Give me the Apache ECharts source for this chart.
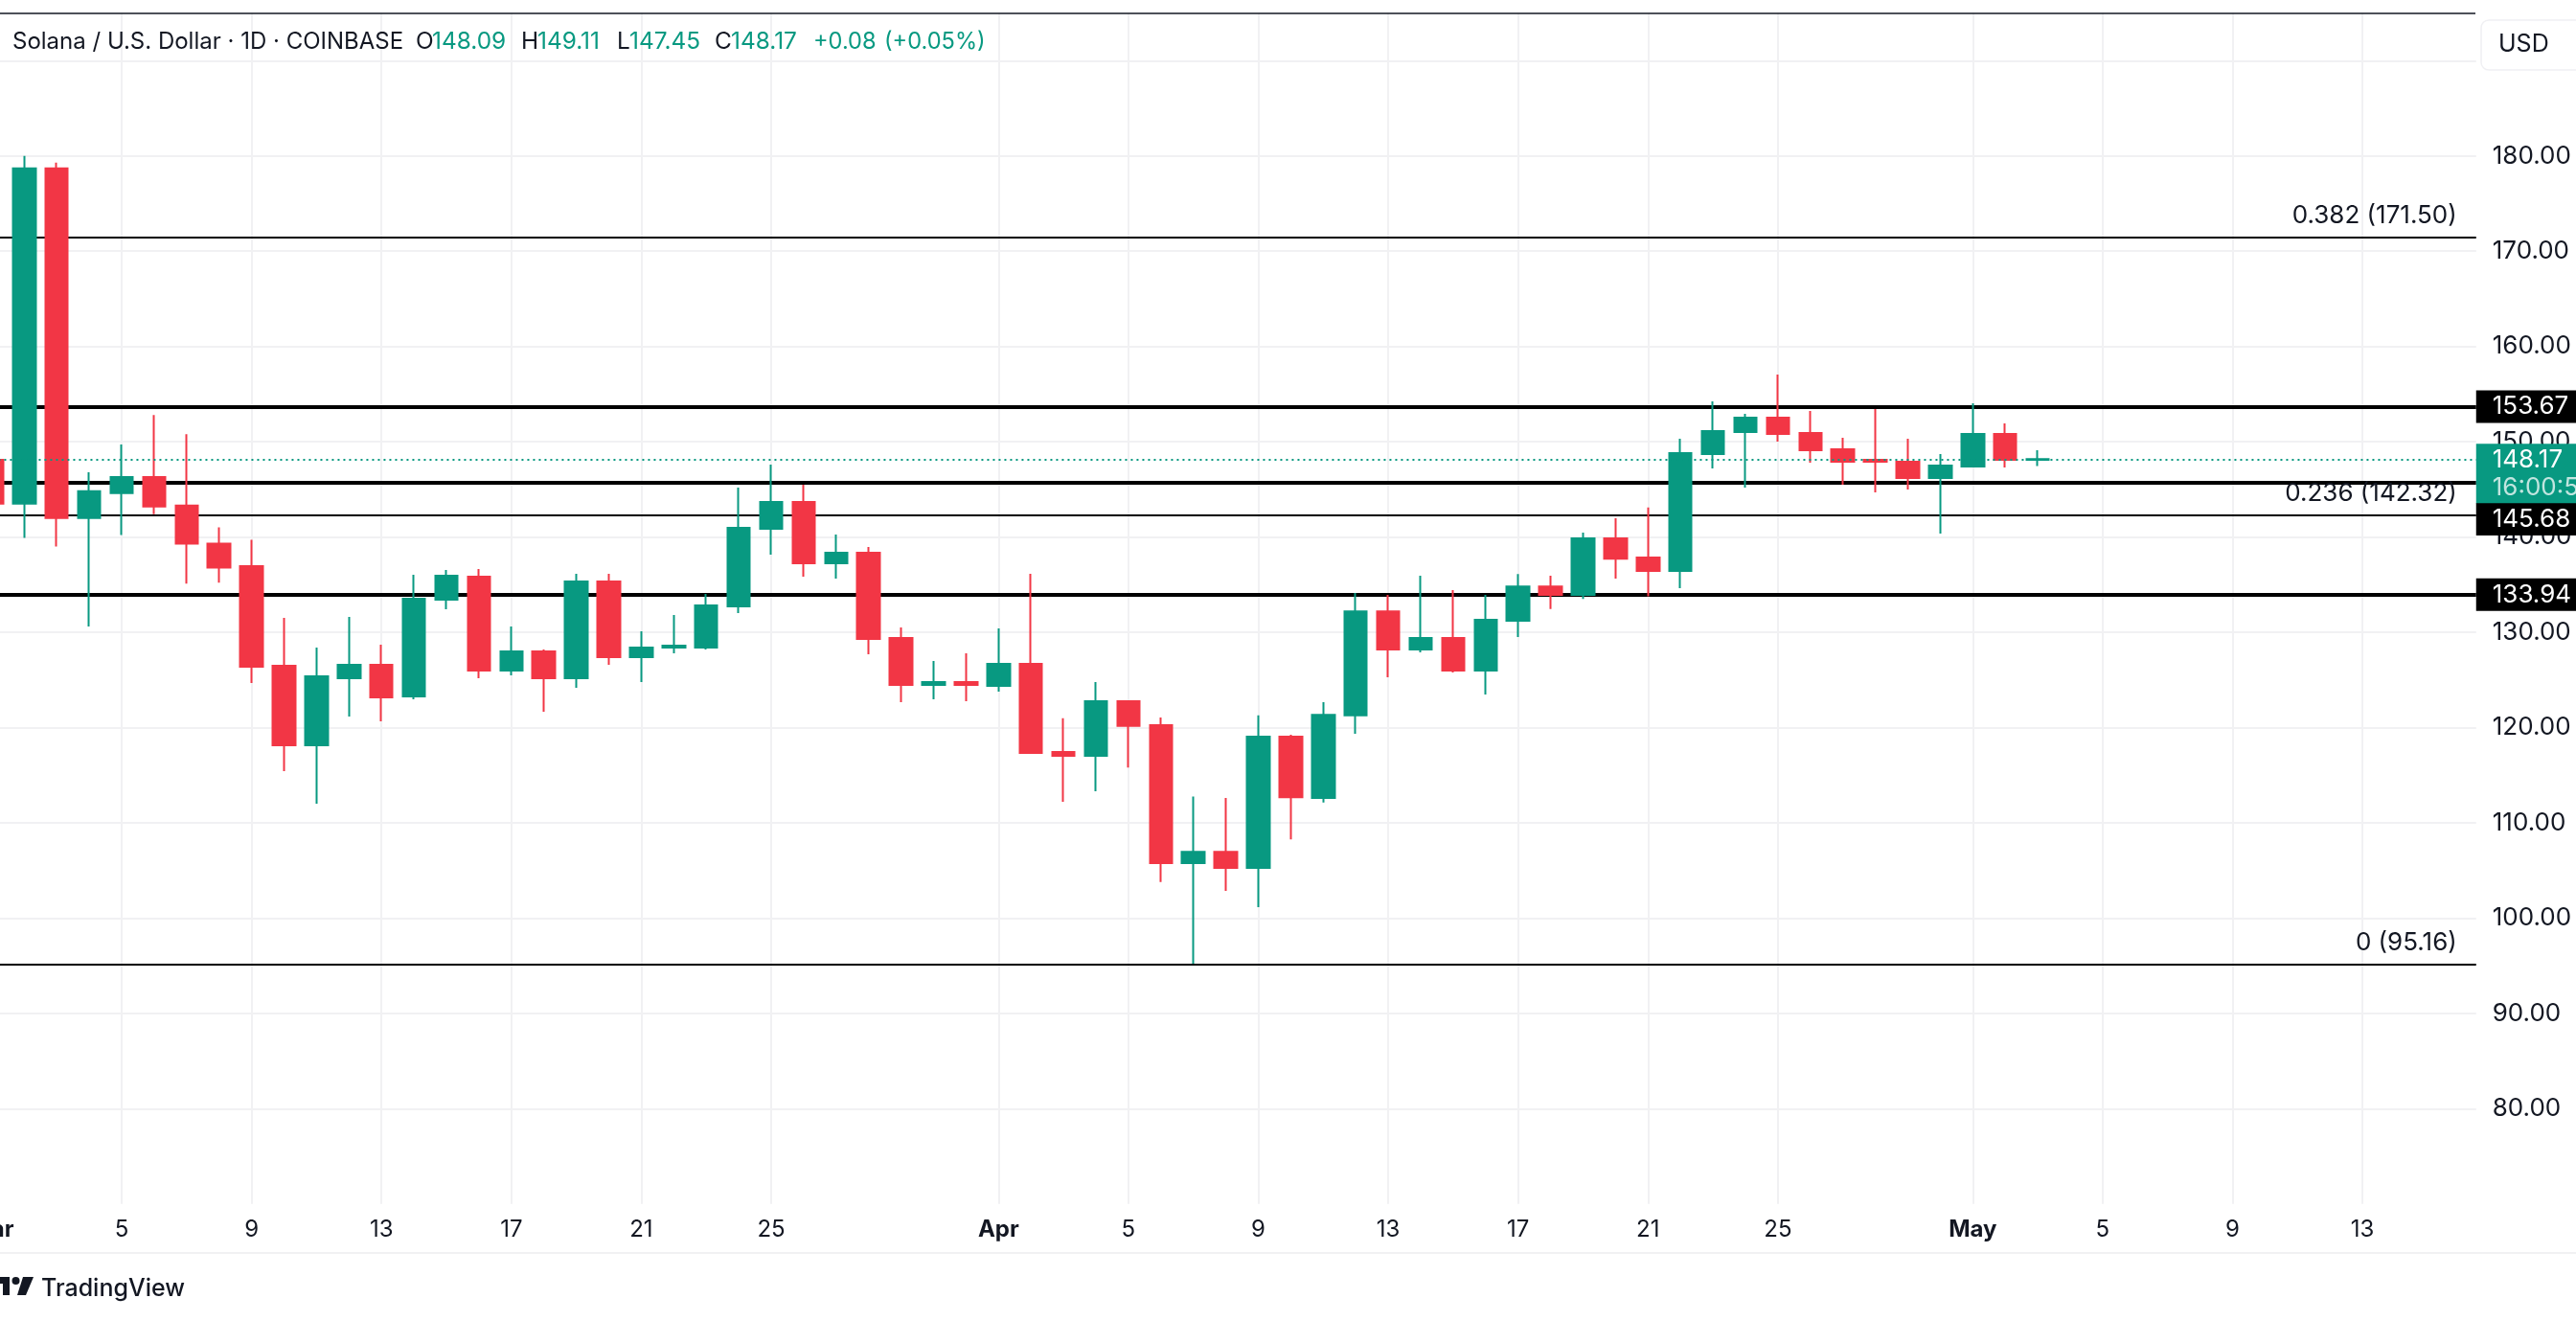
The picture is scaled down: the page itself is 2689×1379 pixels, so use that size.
<!DOCTYPE html>
<html lang="en">
<head>
<meta charset="UTF-8">
<title>Solana / U.S. Dollar</title>
<script src="https://cdn.jsdelivr.net/npm/echarts@6/dist/echarts.min.js"></script>
<style>
  html, body { margin: 0; padding: 0; background: #fff; overflow: hidden; }
  #chart { width: 2689px; height: 1379px; }
</style>
</head>
<body>
<div id="chart"></div>
<script>
// daily candles: [open, close, low, high]
const marchCandles = [
  [148.1, 143.5, 142.0, 149.0], [143.5, 178.7, 139.9, 180.0], [178.7, 142.0, 139.0, 179.3], [142.0, 144.8, 130.6, 146.8],
  [144.6, 146.3, 140.2, 149.7], [146.3, 143.2, 142.4, 152.8], [143.3, 139.3, 135.1, 150.8], [139.3, 136.8, 135.2, 141.0],
  [136.94, 126.38, 124.67, 139.7], [126.48, 118.13, 115.42, 131.5], [118.13, 125.37, 112.0, 128.39], [125.17, 126.58, 121.15, 131.61],
  [126.58, 123.16, 120.65, 128.69], [123.26, 133.52, 122.96, 136.03], [133.42, 135.93, 132.41, 136.54], [135.83, 125.98, 125.17, 136.64],
  [125.98, 127.99, 125.48, 130.6], [127.99, 125.17, 121.65, 128.19], [125.17, 135.33, 124.17, 136.13], [135.33, 127.39, 126.58, 136.13],
  [127.39, 128.39, 124.77, 130.1], [128.39, 128.59, 127.79, 131.81], [128.39, 132.82, 128.19, 134.02], [132.71, 140.96, 132.01, 145.18],
  [140.86, 143.68, 138.14, 147.6], [143.68, 137.24, 135.83, 145.49], [137.24, 138.35, 135.63, 140.26], [138.35, 129.3, 127.69, 138.95],
  [129.4, 124.47, 122.66, 130.5], [124.47, 124.77, 122.96, 126.98], [124.77, 124.47, 122.76, 127.79]
];
const aprilCandles = [
  [124.37, 126.68, 123.77, 130.4], [126.68, 117.33, 117.23, 136.13], [117.43, 117.04, 112.2, 120.97], [117.04, 122.77, 113.31, 124.77],
  [122.77, 120.16, 115.81, 122.77], [120.24, 105.77, 103.77, 121.04], [105.77, 106.96, 95.2, 112.75], [106.96, 105.27, 102.85, 112.61],
  [105.27, 119.04, 101.15, 121.27], [119.04, 112.69, 108.26, 119.23], [112.61, 121.34, 112.12, 122.65], [121.27, 132.2, 119.35, 134.12],
  [132.2, 128.2, 125.27, 133.93], [128.2, 129.39, 127.89, 135.93], [129.39, 125.97, 125.77, 134.43], [125.97, 131.31, 123.47, 133.93],
  [131.2, 134.81, 129.5, 136.12], [134.81, 133.93, 132.43, 135.93], [133.93, 139.85, 133.5, 140.47], [139.85, 137.73, 135.62, 141.97],
  [137.85, 136.43, 133.78, 143.09], [136.44, 148.8, 134.63, 150.31], [148.7, 151.12, 147.19, 154.23], [151.02, 152.52, 145.18, 152.93],
  [152.52, 150.81, 150.01, 157.05], [150.91, 149.1, 147.8, 153.23], [149.21, 147.9, 145.49, 150.41], [148.1, 147.9, 144.68, 153.43],
  [147.9, 146.19, 144.98, 150.31], [146.19, 147.5, 140.36, 148.7]
];
const mayCandles = [
  [147.4, 150.81, 147.4, 154.03], [150.81, 148.1, 147.3, 151.92], [148.09, 148.17, 147.45, 149.11]
];
const daysShownInMay = 16;

const xTickLabels = {
  'Mar 1': 'Mar', 'Mar 5': '5', 'Mar 9': '9', 'Mar 13': '13', 'Mar 17': '17', 'Mar 21': '21', 'Mar 25': '25',
  'Apr 1': 'Apr', 'Apr 5': '5', 'Apr 9': '9', 'Apr 13': '13', 'Apr 17': '17', 'Apr 21': '21', 'Apr 25': '25',
  'May 1': 'May', 'May 5': '5', 'May 9': '9', 'May 13': '13'
};
const monthLabels = ['Mar', 'Apr', 'May'];
const yTickLabels = [180, 170, 160, 150, 140, 130, 120, 110, 100, 90, 80];

const lastPrice = 148.17;
const countdown = '16:00:50';
const levelPrices = [153.67, 145.68, 133.94];
const fibRatios = ['0.382', '0.236', '0'];
const fibPrices = [171.50, 142.32, 95.16];

const headerParts = [
  ['Solana / U.S. Dollar · 1D · COINBASE', 13, '#131722', 24],
  ['O', 434, '#131722', 24.4], ['148.09', 451, '#089981', 24.4],
  ['H', 544, '#131722', 24.4], ['149.11', 561, '#089981', 24.4],
  ['L', 644, '#131722', 24.4], ['147.45', 657, '#089981', 24.4],
  ['C', 746, '#131722', 24.4], ['148.17', 763, '#089981', 24.4],
  ['+0.08', 849, '#089981', 23.6], ['(+0.05%)', 923, '#089981', 23.6]
];

const UP = '#089981';
const DOWN = '#f23645';
const FONT = 'Inter';
const INK = '#131722';
const GRID = '#f1f1f3';
const PRICE_SIZE = 26;

let categories = [];
marchCandles.forEach((c, i) => categories.push('Mar ' + (i + 1)));
aprilCandles.forEach((c, i) => categories.push('Apr ' + (i + 1)));
for (let d = 1; d <= daysShownInMay; d++) categories.push('May ' + d);

const candles = marchCandles.concat(aprilCandles, mayCandles);
const isTick = (i, name) => name in xTickLabels;

// horizontal levels sit under the candles, so they get their own series
let levelLines = levelPrices.map((p, i) => ({
  yAxis: p,
  lineStyle: { color: '#000', width: 4, type: 'solid' },
  label: {
    show: true, position: 'end', distance: 0,
    formatter: '{a|' + p.toFixed(2) + '}',
    backgroundColor: '#000',
    width: 88, padding: [0, 0, 0, 17], align: 'left',
    // the 145.68 tag gets pushed below the last price tag
    offset: p === 145.68 ? [0, 38] : [0, 0],
    rich: { a: { color: '#fff', fontFamily: FONT, fontSize: PRICE_SIZE, height: 34, lineHeight: 34 } }
  }
}));
let fibLines = fibPrices.map((p, i) => ({
  yAxis: p,
  lineStyle: { color: '#000', width: 2, type: 'solid' },
  label: {
    show: true, position: 'insideEndTop', distance: 0,
    formatter: fibRatios[i] + ' (' + p.toFixed(2) + ')',
    color: INK, fontFamily: FONT, fontSize: PRICE_SIZE,
    offset: [-20, -9]
  }
}));

let graphics = [
  { type: 'line', shape: { x1: 0, y1: 14, x2: 2584, y2: 14 }, style: { stroke: '#131722', lineWidth: 1.5 }, z: 10 },
  { type: 'line', shape: { x1: 0, y1: 1308, x2: 2689, y2: 1308 }, style: { stroke: GRID, lineWidth: 2 } },
  { type: 'rect', shape: { x: 2590, y: 21, width: 120, height: 52, r: 8 }, style: { fill: '#fff', stroke: '#f0f0f3', lineWidth: 1.5 }, z: 10 },
  { type: 'text', x: 2608, y: 46, style: { text: 'USD', font: '25px ' + FONT, fill: INK, textVerticalAlign: 'middle' }, z: 11 },
  // TradingView mark
  { type: 'polygon', shape: { points: [[0, 1333], [10, 1333], [10, 1352], [3, 1352], [3, 1340], [0, 1340]] }, style: { fill: '#131722' } },
  { type: 'circle', shape: { cx: 16.5, cy: 1337, r: 4 }, style: { fill: '#131722' } },
  { type: 'polygon', shape: { points: [[24, 1333], [35, 1333], [27, 1352], [18, 1352]] }, style: { fill: '#131722' } },
  { type: 'text', x: 43, y: 1345, style: { text: 'TradingView', font: '500 25px ' + FONT, fill: INK, textVerticalAlign: 'middle' } }
];
headerParts.forEach(p => {
  graphics.push({ type: 'text', x: p[1], y: 44, style: { text: p[0], font: p[3] + 'px ' + FONT, fill: p[2], textVerticalAlign: 'middle' }, z: 10 });
});

const chart = echarts.init(document.getElementById('chart'));
chart.setOption({
  animation: false,
  backgroundColor: '#fff',
  textStyle: { fontFamily: FONT },
  grid: { left: -25.55, width: 2610.3, top: 13.6, height: 1243.1, containLabel: false, outerBoundsMode: 'none' },
  xAxis: {
    type: 'category',
    data: categories,
    boundaryGap: true,
    axisLine: { show: false },
    axisTick: { show: false },
    axisLabel: {
      interval: isTick,
      margin: 15,
      fontFamily: FONT,
      fontSize: 24,
      color: INK,
      formatter: name => {
        let t = xTickLabels[name];
        return monthLabels.includes(t) ? '{m|' + t + '}' : t;
      },
      rich: { m: { fontFamily: FONT, fontSize: 24, fontWeight: 700, color: INK } }
    },
    splitLine: { show: true, interval: isTick, alignWithLabel: true, lineStyle: { color: GRID, width: 2 } }
  },
  yAxis: {
    type: 'value',
    position: 'right',
    min: 70,
    max: 195,
    interval: 10,
    axisLine: { show: false },
    axisTick: { show: false },
    axisLabel: {
      margin: 17,
      padding: [6, 0, 0, 0],
      fontFamily: FONT,
      fontSize: PRICE_SIZE,
      color: INK,
      formatter: v => yTickLabels.includes(v) ? v.toFixed(2) : ''
    },
    splitLine: { show: true, showMinLine: false, showMaxLine: false, lineStyle: { color: GRID, width: 2 } }
  },
  series: [
    {
      type: 'line',
      data: [],
      silent: true,
      z: 1,
      markLine: {
        silent: true, symbol: 'none', animation: false, z: 1, precision: 2,
        data: levelLines.concat(fibLines)
      }
    },
    {
      type: 'candlestick',
      data: candles,
      barWidth: 24,
      z: 2,
      itemStyle: { color: UP, color0: DOWN, borderColor: UP, borderColor0: DOWN, borderWidth: 2 },
      markLine: {
        silent: true, symbol: 'none', animation: false, z: 5, precision: 2,
        data: [{
          yAxis: lastPrice,
          lineStyle: { color: UP, width: 2, type: [2, 4] },
          label: {
            show: true, position: 'end', distance: 0,
            formatter: '{p|' + lastPrice.toFixed(2) + '}\n{t|' + countdown + '}',
            backgroundColor: UP,
            width: 88, padding: [2, 0, 2, 17], align: 'left',
            offset: [0, 15],
            rich: {
              p: { color: '#fff', fontFamily: FONT, fontSize: PRICE_SIZE, lineHeight: 29 },
              t: { color: 'rgba(255,255,255,0.75)', fontFamily: FONT, fontSize: PRICE_SIZE, lineHeight: 29 }
            }
          }
        }]
      }
    }
  ],
  graphic: graphics
});
</script>
</body>
</html>
